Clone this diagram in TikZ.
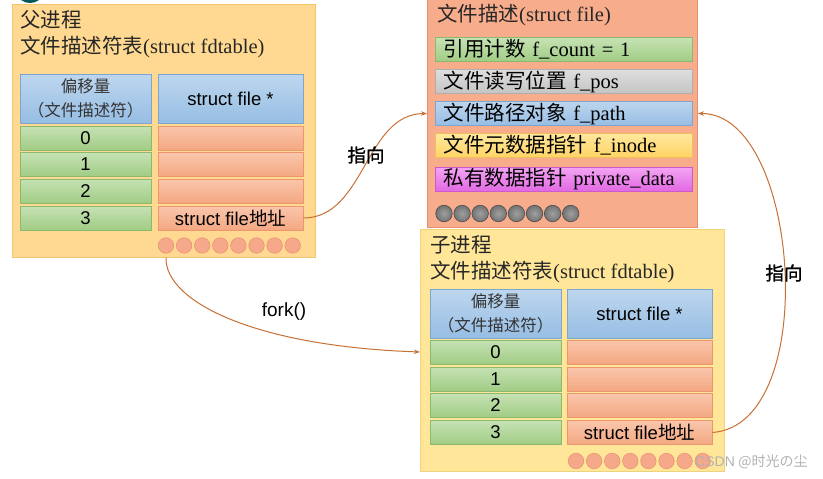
\documentclass[tikz,border=0pt]{standalone}
\usepackage{fontspec}
\setmainfont{Liberation Serif}
\newfontfamily\cjk{Noto Sans CJK SC}
\newfontfamily\cjkb{Noto Sans CJK SC}[FakeBold=1.2]
\newfontfamily\sansf{Liberation Sans}
\usetikzlibrary{arrows.meta}
\definecolor{pfill}{RGB}{255,217,146}
\definecolor{pborder}{RGB}{246,196,112}
\definecolor{cfill}{RGB}{255,230,153}
\definecolor{cborder}{RGB}{240,212,125}
\definecolor{ffill}{RGB}{247,172,140}
\definecolor{fborder}{RGB}{232,142,110}
\definecolor{gtop}{RGB}{198,226,180}
\definecolor{gbot}{RGB}{160,204,132}
\definecolor{gborder}{RGB}{140,185,110}
\definecolor{btop}{RGB}{190,214,238}
\definecolor{bbot}{RGB}{150,190,228}
\definecolor{bborder}{RGB}{125,165,205}
\definecolor{stop}{RGB}{250,198,172}
\definecolor{sbot}{RGB}{244,168,130}
\definecolor{sborder}{RGB}{236,150,110}
\definecolor{ytop}{RGB}{255,232,160}
\definecolor{ybot}{RGB}{255,212,100}
\definecolor{yborder}{RGB}{240,190,90}
\definecolor{grtop}{RGB}{222,222,222}
\definecolor{grbot}{RGB}{196,196,196}
\definecolor{grborder}{RGB}{175,175,175}
\definecolor{mtop}{RGB}{244,165,244}
\definecolor{mbot}{RGB}{226,105,226}
\definecolor{mborder}{RGB}{205,90,205}
\definecolor{arrowc}{RGB}{200,112,52}
\definecolor{scirc}{RGB}{245,168,138}
\definecolor{scircb}{RGB}{234,148,115}
\definecolor{gcirc}{RGB}{115,115,115}
\definecolor{gcircb}{RGB}{75,75,75}
\begin{document}
\begin{tikzpicture}[x=1pt,y=-1pt,
  panel/.style={anchor=north west, inner sep=0pt, line width=0.9pt},
  ppanel/.style={panel, draw=pborder, fill=pfill},
  cpanel/.style={panel, draw=cborder, fill=cfill},
  fpanel/.style={panel, draw=fborder, fill=ffill},
  cell/.style={inner sep=0pt, line width=0.6pt, font=\sansf\fontsize{18.5}{20}\selectfont},
  idcell/.style={cell, minimum width=131pt, minimum height=24pt, draw=gborder, top color=gtop, bottom color=gbot},
  ptrcell/.style={cell, minimum width=145pt, minimum height=24pt, draw=sborder, top color=stop, bottom color=sbot},
  hdrL/.style={cell, minimum width=131pt, minimum height=49pt, draw=bborder, top color=btop, bottom color=bbot, align=center, text=black!80, font=\cjk\fontsize{16.5}{24}\selectfont},
  hdrR/.style={cell, minimum width=145pt, minimum height=49pt, draw=bborder, top color=btop, bottom color=bbot},
  frow/.style={inner sep=0pt, line width=0.6pt, minimum width=257pt, minimum height=24pt, text width=240pt, align=left, font=\fontsize{20.5}{22}\selectfont},
  ttl/.style={anchor=west, inner sep=0pt, text=black!85, font=\fontsize{20.5}{22}\selectfont},
  scircle/.style={circle, inner sep=0pt, minimum size=15.5pt, draw=scircb, fill=scirc, line width=0.6pt},
  gcircle/.style={circle, inner sep=0pt, minimum size=16.5pt, draw=gcircb, inner color=gray!75, outer color=gcirc, line width=0.6pt},
  link/.style={draw=arrowc, line width=1pt, -{Stealth[length=6pt,width=4.5pt]}},
  lbl/.style={inner sep=0pt, text=black}
]
\useasboundingbox (0,0) rectangle (823,479);
\fill[white] (0,0) rectangle (823,479);
% partial logo at top-left
\fill[teal!70!black] (30,-6) ellipse (12pt and 9pt);

% ---------- parent panel ----------
\node[ppanel, minimum width=303pt, minimum height=253pt] (parent) at (12,4) {};
\node[ttl] (pt1) at (20,20) {\cjk 父进程};
\node[ttl] (pt2) at (20,47) {{\cjk 文件描述符表}(struct fdtable)};
\node[hdrL] (ph1) at (85.5,98.5) {偏移量\\（文件描述符）};
\node[hdrR] (ph2) at (230.5,98.5) {struct file *};
\node[idcell] (pl0) at (85.5,138) {0};
\node[idcell] (pl1) at (85.5,164.5) {1};
\node[idcell] (pl2) at (85.5,191) {2};
\node[idcell] (pl3) at (85.5,218) {3};
\node[ptrcell] (pr0) at (230.5,138) {};
\node[ptrcell] (pr1) at (230.5,164.5) {};
\node[ptrcell] (pr2) at (230.5,191) {};
\node[ptrcell] (pr3) at (230.5,218) {struct file{\cjk 地址}};
\foreach \i in {0,...,7} \node[scircle] (pc\i) at (166+18.1*\i,245.5) {};

% ---------- struct file panel ----------
\node[fpanel, minimum width=270pt, minimum height=230pt] (fpan) at (427,-3) {};
\node[ttl] (ft) at (437,15) {{\cjk 文件描述}(struct file)};
\node[frow, draw=gborder, top color=gtop, bottom color=gbot] (fgreen) at (563.5,49.5) {{\cjk 引用计数} f\_count = 1};
\node[frow, draw=grborder, top color=grtop, bottom color=grbot] (fgray) at (563.5,81.5) {{\cjk 文件读写位置} f\_pos};
\node[frow, draw=bborder, top color=btop, bottom color=bbot] (fblue) at (563.5,113.5) {{\cjk 文件路径对象} f\_path};
\node[frow, draw=yborder, top color=ytop, bottom color=ybot] (fyellow) at (563.5,145) {{\cjk 文件元数据指针} f\_inode};
\node[frow, draw=mborder, top color=mtop, bottom color=mbot] (fmag) at (563.5,179) {{\cjk 私有数据指针} private\_data};
\foreach \i in {0,...,7} \node[gcircle] (gc\i) at (444+18.1*\i,213.5) {};

% ---------- child panel ----------
\node[cpanel, minimum width=304pt, minimum height=242pt] (child) at (420,229) {};
\node[ttl] (ct1) at (430,245) {\cjk 子进程};
\node[ttl] (ct2) at (430,272) {{\cjk 文件描述符表}(struct fdtable)};
\node[hdrL] (ch1) at (495.5,313.5) {偏移量\\（文件描述符）};
\node[hdrR] (ch2) at (639.5,313.5) {struct file *};
\node[idcell] (cl0) at (495.5,352) {0};
\node[idcell] (cl1) at (495.5,379) {1};
\node[idcell] (cl2) at (495.5,405.5) {2};
\node[idcell] (cl3) at (495.5,432.5) {3};
\node[ptrcell] (cr0) at (639.5,352) {};
\node[ptrcell] (cr1) at (639.5,379) {};
\node[ptrcell] (cr2) at (639.5,405.5) {};
\node[ptrcell] (cr3) at (639.5,432.5) {struct file{\cjk 地址}};
\foreach \i in {0,...,7} \node[scircle] (cc\i) at (576+18.1*\i,461) {};

% ---------- connectors ----------
\coordinate (forkstart) at (parent.south west -| pc0);
\draw[link] (pr3.east) .. controls (365,218) and (365,114) .. (fpan.west |- fblue.west);
\draw[link] (forkstart) .. controls (165,300) and (250,346) .. (child.west |- cl0.west);
\draw[link] (cr3.east) .. controls (822,425) and (800,113) .. (fpan.east |- fblue.east);

\node[lbl, font=\cjkb\fontsize{18.5}{20}\selectfont] (l1) at (366,155) {指向};
\node[lbl, font=\sansf\fontsize{19}{20}\selectfont] (l2) at (284,312) {fork()};
\node[lbl, font=\cjkb\fontsize{18.5}{20}\selectfont] (l3) at (784,273) {指向};

% watermark
\node[lbl, anchor=west, text=black!30, font=\fontsize{14}{15}\selectfont] (wm) at (695,462) {{\sansf CSDN} {\cjk @时光の尘}};
\end{tikzpicture}
\end{document}
